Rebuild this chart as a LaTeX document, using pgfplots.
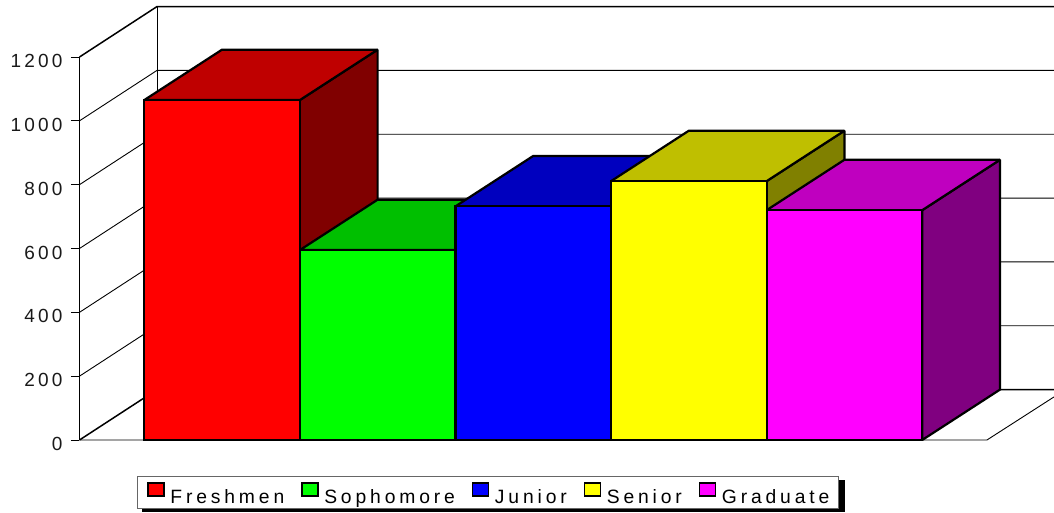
\documentclass[border=0pt]{standalone}
\usepackage{fontspec}
\setmainfont[LetterSpace=20]{Liberation Sans}
\newfontfamily\tickfont[LetterSpace=17]{Liberation Sans}
\usepackage{pgfplots}
\pgfplotsset{compat=1.18}
\definecolor{rF}{RGB}{255,0,0}\definecolor{rT}{HTML}{BF0000}\definecolor{rS}{HTML}{800000}
\definecolor{gF}{RGB}{0,255,0}\definecolor{gT}{HTML}{00BF00}\definecolor{gS}{HTML}{008000}
\definecolor{bF}{RGB}{0,0,255}\definecolor{bT}{HTML}{0000BF}\definecolor{bS}{HTML}{000080}
\definecolor{yF}{RGB}{255,255,0}\definecolor{yT}{HTML}{BFBF00}\definecolor{yS}{HTML}{808000}
\definecolor{mF}{RGB}{255,0,255}\definecolor{mT}{HTML}{BF00BF}\definecolor{mS}{HTML}{800080}
\pgfplotsset{
  face/.style={draw=black,line width=2.2pt,line join=miter,miter limit=2,forget plot},
  front/.style={draw=black,line width=2.2pt,line join=miter,miter limit=2,fill=#1},
  wall/.style={black,line width=0.9pt,forget plot},
  wallthick/.style={black,line width=1.5pt,forget plot},
}
\begin{document}
\begin{tikzpicture}
\useasboundingbox (-79.5pt,-72pt) rectangle (974.5pt,440pt);
\begin{axis}[
  at={(0pt,0pt)},anchor=south west,
  scale only axis,width=974.5pt,height=383pt,
  xmin=-0.916,xmax=5.347,ymin=0,ymax=1200,
  clip=false,
  axis x line=none,axis y line=left,
  axis line style={-,black,line width=0.9pt},
  xtick=\empty,
  ytick={0,200,400,600,800,1000,1200},
  tick style={black,line width=0.9pt},
  major tick length=8.5pt,
  tick align=outside,
  yticklabel style={font=\tickfont\fontsize{19}{22}\selectfont,text=black!90,xshift=-5pt,yshift=-4pt},
  /pgf/number format/assume math mode=true,
  /pgf/number format/1000 sep={},
  legend columns=5,
  legend cell align=left,
  legend style={
    at={(axis description cs:0.0595,-0.0927)},anchor=north west,
    draw=black!60,line width=0.8pt,fill=white,
    font=\fontsize{19.3}{22}\selectfont,
    inner xsep=9.5pt,inner ysep=2pt,
    /tikz/every odd column/.append style={column sep=5.5pt},
    /tikz/every even column/.append style={column sep=17pt},
    nodes={inner sep=0pt,text height=25.5pt,text depth=3pt},
  },
  legend image code/.code={
    \draw[#1,draw=black,line width=1.5pt] (0pt,-4pt) rectangle (16pt,9pt);
  },
]
% left wall, back wall, floor
\addplot[wall] coordinates {(-0.916,200)(-0.418,358)(5.347,358)};
\addplot[wall] coordinates {(-0.916,400)(-0.418,558)(5.347,558)};
\addplot[wall] coordinates {(-0.916,600)(-0.418,758)(5.347,758)};
\addplot[wall] coordinates {(-0.916,800)(-0.418,958)(5.347,958)};
\addplot[wall] coordinates {(-0.916,1000)(-0.418,1158)(5.347,1158)};
\addplot[wallthick] coordinates {(-0.916,1200)(-0.418,1358)(5.347,1358)};
\addplot[wallthick] coordinates {(-0.916,0)(-0.418,158)(5.347,158)};
\addplot[wall] coordinates {(-0.418,158)(-0.418,1358)};
\addplot[wall] coordinates {(-0.916,0)(4.916,0)(5.347,135)};
% Freshmen
\addplot[face,fill=rS] coordinates {(0.5,0)(1,158)(1,1223)(0.5,1065)} -- cycle;
\addplot[face,fill=rT] coordinates {(-0.5,1065)(0.5,1065)(1,1223)(0,1223)} -- cycle;
\addplot[front=rF] coordinates {(-0.5,0)(0.5,0)(0.5,1065)(-0.5,1065)} -- cycle;
\addlegendentry{Freshmen}
% Sophomore
\addplot[face,fill=gS] coordinates {(1.5,0)(2,158)(2,753)(1.5,595)} -- cycle;
\addplot[face,fill=gT] coordinates {(0.5,595)(1.5,595)(2,753)(1,753)} -- cycle;
\addplot[front=gF] coordinates {(0.5,0)(1.5,0)(1.5,595)(0.5,595)} -- cycle;
\addlegendentry{Sophomore}
% Junior
\addplot[face,fill=bS] coordinates {(2.5,0)(3,158)(3,890)(2.5,732)} -- cycle;
\addplot[face,fill=bT] coordinates {(1.5,732)(2.5,732)(3,890)(2,890)} -- cycle;
\addplot[front=bF] coordinates {(1.5,0)(2.5,0)(2.5,732)(1.5,732)} -- cycle;
\addlegendentry{Junior}
% Senior
\addplot[face,fill=yS] coordinates {(3.5,0)(4,158)(4,969)(3.5,811)} -- cycle;
\addplot[face,fill=yT] coordinates {(2.5,811)(3.5,811)(4,969)(3,969)} -- cycle;
\addplot[front=yF] coordinates {(2.5,0)(3.5,0)(3.5,811)(2.5,811)} -- cycle;
\addlegendentry{Senior}
% Graduate
\addplot[face,fill=mS] coordinates {(4.5,0)(5,158)(5,878)(4.5,720)} -- cycle;
\addplot[face,fill=mT] coordinates {(3.5,720)(4.5,720)(5,878)(4,878)} -- cycle;
\addplot[front=mF] coordinates {(3.5,0)(4.5,0)(4.5,720)(3.5,720)} -- cycle;
\addlegendentry{Graduate\hspace{10pt}}
% legend drop shadow
\fill[black] (axis description cs:0.0641,-0.104) rectangle (axis description cs:0.786,-0.188);
\end{axis}
\end{tikzpicture}
\end{document}
